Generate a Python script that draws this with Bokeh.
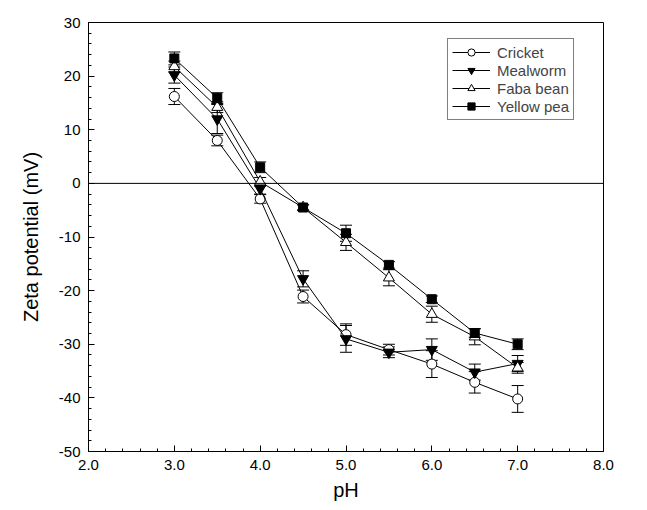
from bokeh.plotting import figure
from bokeh.models import (ColumnDataSource, Whisker, TeeHead, Span, FixedTicker,
                          PrintfTickFormatter, Legend, LegendItem, Range1d)
from bokeh.embed import file_html
from bokeh.resources import INLINE

ph = [3.0, 3.5, 4.0, 4.5, 5.0, 5.5, 6.0, 6.5, 7.0]

cricket = [16.2, 8.0, -2.9, -21.1, -28.2, -31.0, -33.7, -37.1, -40.2]
cricket_err = [1.5, 1.0, 0.8, 1.2, 2.0, 1.0, 2.5, 2.0, 2.5]

mealworm = [20.2, 12.0, -1.0, -17.8, -29.0, -31.5, -31.0, -35.2, -33.6]
mealworm_err = [1.5, 2.7, 1.0, 1.5, 2.5, 1.0, 2.0, 1.5, 1.5]

faba = [21.8, 14.2, 0.3, -4.5, -11.0, -17.6, -24.4, -28.6, -34.4]
faba_err = [1.0, 1.0, 0.8, 0.5, 1.5, 1.5, 1.5, 1.5, 1.0]

yellow = [23.3, 15.9, 3.0, -4.5, -9.3, -15.2, -21.6, -27.9, -30.0]
yellow_err = [1.2, 1.0, 1.0, 0.5, 1.5, 0.6, 0.6, 0.8, 1.0]

x_ticks = [2, 3, 4, 5, 6, 7, 8]
y_ticks = [-50, -40, -30, -20, -10, 0, 10, 20, 30]

series = [
    ("Cricket", cricket, cricket_err, "circle", "white", 10),
    ("Mealworm", mealworm, mealworm_err, "inverted_triangle", "black", 11),
    ("Faba bean", faba, faba_err, "triangle", "white", 11),
    ("Yellow pea", yellow, yellow_err, "square", "black", 9),
]

FONT = "Liberation Sans"

p = figure(frame_width=515, frame_height=429, output_backend="svg",
           toolbar_location=None, x_range=Range1d(2, 8), y_range=Range1d(-50, 30),
           min_border_left=88, min_border_right=28, min_border_top=22,
           min_border_bottom=43)
p.xgrid.visible = False
p.ygrid.visible = False
p.outline_line_color = "black"
p.outline_line_width = 1
p.outline_line_alpha = 1
p.background_fill_color = "white"
p.border_fill_color = "white"

zero = Span(location=0, dimension="width", line_color="black", line_width=1)
p.add_layout(zero)

items = []
for name, vals, errs, marker, fill, size in series:
    src = ColumnDataSource(dict(
        x=ph, y=vals,
        upper=[v + e for v, e in zip(vals, errs)],
        lower=[v - e for v, e in zip(vals, errs)],
    ))
    w = Whisker(source=src, base="x", upper="upper", lower="lower",
                line_color="black", line_width=1,
                upper_head=TeeHead(size=12, line_color="black", line_width=1),
                lower_head=TeeHead(size=12, line_color="black", line_width=1))
    p.add_layout(w)
    ln = p.line("x", "y", source=src, line_color="black", line_width=1)
    sc = p.scatter("x", "y", source=src, marker=marker, size=size,
                   fill_color=fill, line_color="black", line_width=1)
    items.append(LegendItem(label=name, renderers=[ln, sc]))

legend = Legend(items=items, location=(359, 331))
legend.border_line_color = "black"
legend.border_line_width = 1
legend.background_fill_alpha = 1
legend.label_text_font = FONT
legend.label_text_font_size = "15px"
legend.glyph_width = 38
legend.glyph_height = 18
legend.spacing = 0
legend.padding = 4
legend.margin = 0
legend.label_standoff = 7
legend.label_height = 18
p.add_layout(legend)

p.xaxis.ticker = FixedTicker(ticks=x_ticks,
                             minor_ticks=[2 + 0.2 * i for i in range(31)])
p.xaxis.formatter = PrintfTickFormatter(format="%.1f")
p.yaxis.ticker = FixedTicker(ticks=y_ticks,
                             minor_ticks=list(range(-50, 31, 2)))
p.yaxis.formatter = PrintfTickFormatter(format="%d")

for ax in (p.xaxis, p.yaxis):
    ax.major_tick_in = 6
    ax.major_tick_out = 0
    ax.minor_tick_in = 3
    ax.minor_tick_out = 0
    ax.axis_line_color = "black"
    ax.major_tick_line_color = "black"
    ax.minor_tick_line_color = "black"
    ax.major_label_text_font = FONT
    ax.major_label_text_font_size = "15px"
    ax.major_label_text_color = "black"
    ax.axis_label_text_font = FONT
    ax.axis_label_text_font_size = "20px"
    ax.axis_label_text_font_style = "normal"
    ax.axis_label_text_color = "black"

p.xaxis.axis_label = "pH"
p.yaxis.axis_label = "Zeta potential (mV)"
p.xaxis.major_label_standoff = 8
p.yaxis.major_label_standoff = 8
p.xaxis.axis_label_standoff = 6
p.yaxis.axis_label_standoff = 14

open("out.html", "w").write(file_html(p, INLINE))
